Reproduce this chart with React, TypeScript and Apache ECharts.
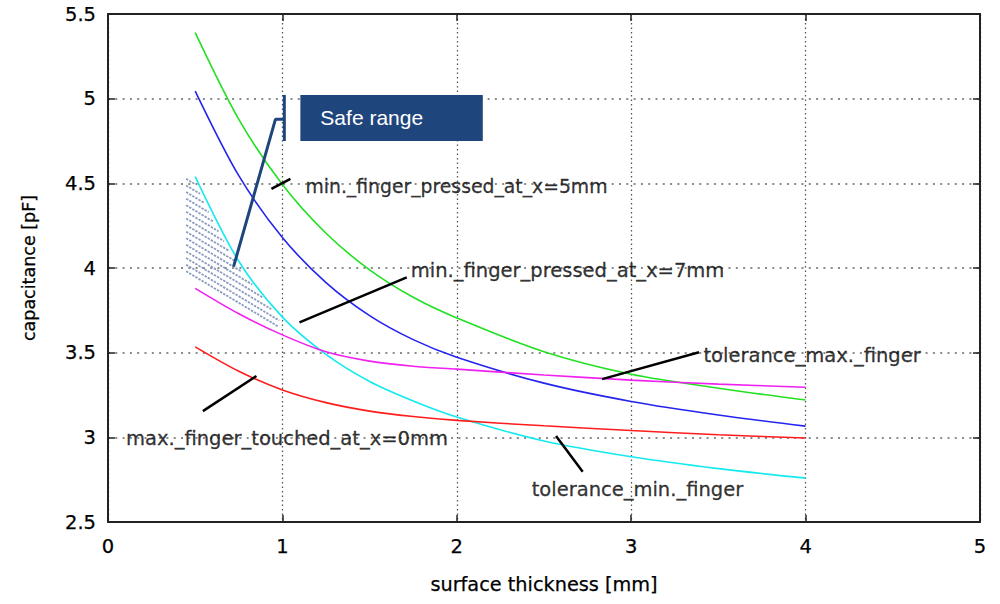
import React, { useEffect, useRef } from 'react';
import * as echarts from 'echarts';

// surface thickness [mm]
const thickness = [0.5, 0.75, 1, 1.25, 1.5, 1.75, 2, 2.5, 3, 3.5, 4];
// capacitance [pF]
const pressed5mm = [5.39, 4.878, 4.493, 4.205, 3.989, 3.827, 3.705, 3.505, 3.372, 3.29, 3.22]; // green
const pressed7mm = [5.045, 4.545, 4.18, 3.914, 3.719, 3.577, 3.473, 3.32, 3.212, 3.132, 3.066]; // blue
const toleranceMin = [4.54, 4.04, 3.71, 3.49, 3.33, 3.215, 3.12, 2.978, 2.885, 2.815, 2.759]; // cyan
const toleranceMax = [3.88, 3.73, 3.605, 3.505, 3.45, 3.42, 3.403, 3.368, 3.338, 3.314, 3.296]; // magenta
const touched0mm = [3.534, 3.39, 3.28, 3.205, 3.155, 3.123, 3.1, 3.068, 3.04, 3.015, 2.996]; // red

const curveNames = [
  'min._finger_pressed_at_x=5mm',
  'min._finger_pressed_at_x=7mm',
  'tolerance_min._finger',
  'tolerance_max._finger',
  'max._finger_touched_at_x=0mm',
];
const curveValues = [pressed5mm, pressed7mm, toleranceMin, toleranceMax, touched0mm];
const curveColors = ['#22e022', '#2424ee', '#14eaf0', '#f020f0', '#ff1c1c'];

// Annotation labels (data coordinates of the text's left/middle point)
const annotationTexts = [
  'min._finger_pressed_at_x=5mm',
  'min._finger_pressed_at_x=7mm',
  'tolerance_max._finger',
  'max._finger_touched_at_x=0mm',
  'tolerance_min._finger',
];
const annotationX = [1.132, 1.736, 3.414, 0.103, 2.429];
const annotationY = [4.484, 3.988, 3.486, 2.996, 2.689];
const annotationFontSizes = [18.8, 19.5, 19.5, 19.5, 19.5];

// Leader lines (data coordinates)
const leaderFromX = [0.937, 1.098, 2.833, 0.544, 2.569];
const leaderFromY = [4.467, 3.679, 3.344, 3.155, 3.008];
const leaderToX = [1.046, 1.713, 3.389, 0.851, 2.722];
const leaderToY = [4.526, 3.945, 3.502, 3.362, 2.797];

// Safe range callout
const safeBoxFrom = [1.103, 5.022];
const safeBoxTo = [2.149, 4.75];
const safeBracketX = [0.72, 0.96, 1.011];
const safeBracketY = [4.008, 4.878, 4.878];
const safeBarX = [1.011, 1.011];
const safeBarY = [5.022, 4.75];

// Hatched region polygon
const hatchX = [0.448, 0.448, 1.027, 0.9, 0.75, 0.6, 0.49];
const hatchY = [4.537, 3.97, 3.624, 3.81, 4.0, 4.28, 4.52];

const FONT = 'DejaVu Sans';

export default function App() {
  const ref = useRef<HTMLDivElement>(null);
  useEffect(() => {
    if (!ref.current) return;
    const chart = echarts.init(ref.current, null, { renderer: 'svg' });

    const axisLine = { show: true, onZero: false, lineStyle: { color: '#222', width: 2 } };
    const axisTick = { show: true, inside: true, length: 7, lineStyle: { color: '#222', width: 1.5 } };

    const series: any[] = [];

    series.push({
      type: 'custom',
      name: 'hatch',
      coordinateSystem: 'cartesian2d',
      data: [[0.45, 4.5]],
      encode: { x: 0, y: 1 },
      silent: true,
      renderItem: (params: any, api: any) => {
        const pts = hatchX.map((x, i) => api.coord([x, hatchY[i]]));
        const m = 0.6;
        const step = 6.6;
        const cs = pts.map((p: number[]) => p[1] - m * p[0]);
        const cmin = Math.min(...cs);
        const cmax = Math.max(...cs);
        const children: any[] = [];
        for (let c = cmin + step / 2; c < cmax; c += step) {
          const xs: number[] = [];
          for (let i = 0; i < pts.length; i++) {
            const p1 = pts[i];
            const p2 = pts[(i + 1) % pts.length];
            const f1 = p1[1] - m * p1[0] - c;
            const f2 = p2[1] - m * p2[0] - c;
            if ((f1 < 0) !== (f2 < 0)) {
              const t = f1 / (f1 - f2);
              xs.push(p1[0] + t * (p2[0] - p1[0]));
            }
          }
          xs.sort((a, b) => a - b);
          for (let k = 0; k + 1 < xs.length; k += 2) {
            children.push({
              type: 'line',
              shape: { x1: xs[k], y1: m * xs[k] + c, x2: xs[k + 1], y2: m * xs[k + 1] + c },
              style: { stroke: '#8a9dc0', lineWidth: 1.8, lineDash: [2.4, 1.2] },
            });
          }
        }
        return { type: 'group', children };
      },
    });

    curveValues.forEach((vals, i) => {
      series.push({
        type: 'line',
        name: curveNames[i],
        data: thickness.map((x, j) => [x, vals[j]]),
        smooth: 0.3,
        showSymbol: false,
        symbol: 'none',
        lineStyle: { color: curveColors[i], width: 1.6 },
        itemStyle: { color: curveColors[i] },
        silent: true,
      });
    });

    leaderFromX.forEach((_, i) => {
      series.push({
        type: 'line',
        name: 'leader' + i,
        data: [
          [leaderFromX[i], leaderFromY[i]],
          [leaderToX[i], leaderToY[i]],
        ],
        symbol: 'none',
        lineStyle: { color: '#000', width: 2.5 },
        silent: true,
        clip: false,
      });
    });

    series.push({
      type: 'line',
      name: 'safeBracket',
      data: safeBracketX.map((x, i) => [x, safeBracketY[i]]),
      symbol: 'none',
      lineStyle: { color: '#1f467c', width: 3 },
      silent: true,
      clip: false,
      markArea: {
        silent: true,
        itemStyle: { color: '#1f467c', opacity: 1 },
        label: {
          show: true,
          position: 'insideLeft',
          distance: 20,
          color: '#ffffff',
          fontSize: 21,
          fontFamily: 'Liberation Sans',
        },
        data: [[{ name: 'Safe range', coord: safeBoxFrom }, { coord: safeBoxTo }]],
      },
    });
    series.push({
      type: 'line',
      name: 'safeBar',
      data: safeBarX.map((x, i) => [x, safeBarY[i]]),
      symbol: 'none',
      lineStyle: { color: '#1f467c', width: 3 },
      silent: true,
      clip: false,
    });

    series.push({
      type: 'scatter',
      name: 'annotations',
      data: annotationTexts.map((t, i) => ({
        name: t,
        value: [annotationX[i], annotationY[i]],
        label: { fontSize: annotationFontSizes[i] },
      })),
      symbolSize: 0.1,
      itemStyle: { color: 'rgba(0,0,0,0)' },
      silent: true,
      clip: false,
      label: {
        show: true,
        position: 'right',
        distance: 0,
        formatter: '{b}',
        color: '#000',
        textBorderColor: '#000',
        textBorderWidth: 0.3,
        fontSize: 19.5,
        fontFamily: FONT,
      },
    });

    const tickText = { color: '#000', textBorderColor: '#000', textBorderWidth: 0.25, fontFamily: FONT };

    chart.setOption({
      animation: false,
      backgroundColor: '#ffffff',
      textStyle: { fontFamily: FONT },
      grid: { left: 108, right: 20, top: 14, bottom: 82, containLabel: false, outerBoundsMode: 'none' },
      xAxis: [
        {
          type: 'value',
          min: 0,
          max: 5,
          interval: 1,
          position: 'bottom',
          name: 'surface thickness [mm]',
          nameLocation: 'middle',
          nameGap: 53,
          nameTextStyle: { fontSize: 19.3, ...tickText },
          axisLine,
          axisTick,
          axisLabel: { fontSize: 19.5, margin: 14, ...tickText },
          splitLine: { show: true, lineStyle: { color: '#555', width: 1.3, type: [1.5, 3] } },
        },
        {
          type: 'value',
          min: 0,
          max: 5,
          interval: 1,
          position: 'top',
          axisLine,
          axisTick,
          axisLabel: { show: false },
          splitLine: { show: false },
        },
      ],
      yAxis: [
        {
          type: 'value',
          min: 2.5,
          max: 5.5,
          interval: 0.5,
          position: 'left',
          name: 'capacitance [pF]',
          nameLocation: 'middle',
          nameGap: 70,
          nameTextStyle: { fontSize: 17.5, ...tickText },
          axisLine,
          axisTick,
          axisLabel: { fontSize: 19.5, margin: 12, ...tickText },
          splitLine: { show: true, lineStyle: { color: '#666', width: 1.5, type: [2, 5.3] } },
        },
        {
          type: 'value',
          min: 2.5,
          max: 5.5,
          interval: 0.5,
          position: 'right',
          axisLine,
          axisTick,
          axisLabel: { show: false },
          splitLine: { show: false },
        },
      ],
      series,
    });

    return () => chart.dispose();
  }, []);

  return (
    <div
      ref={ref}
      style={{ position: 'absolute', left: 0, top: 0, width: 1000, height: 604, background: '#fff' }}
    />
  );
}
